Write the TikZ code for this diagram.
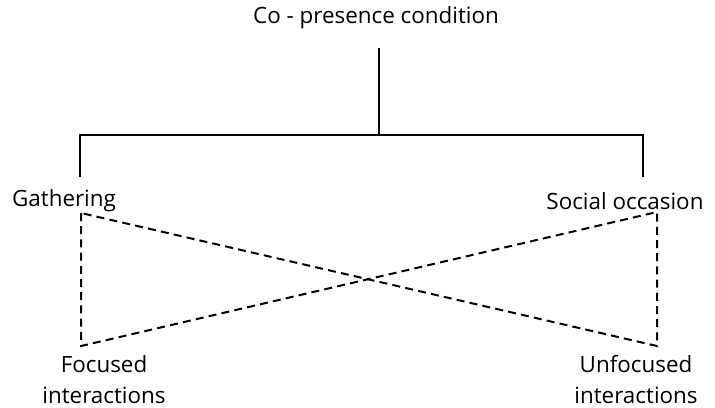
\documentclass[tikz,border=0pt]{standalone}
\usepackage{fontspec}
\setmainfont{Open Sans}
\usepackage{tikz}
\usetikzlibrary{positioning,calc}
\tikzset{
  lbl/.style={inner sep=0pt,align=center,font=\fontsize{11.2}{15.5}\selectfont},
  tree/.style={draw=black,line width=1pt},
  link/.style={draw=black,line width=1pt,dash pattern=on 4pt off 2.6pt},
}

\begin{document}
\begin{tikzpicture}[x=0.5pt,y=-0.5pt]
  \useasboundingbox (0,0) rectangle (715,407);
  % labels
  \node[lbl] (cop) at (376,18) {Co - presence condition};
  \node[lbl] (gat) at (64,201) {Gathering};
  \node[lbl] (soc) at (625,201) {Social occasion};
  \node[lbl] (foc) at (104,380) {Focused\\interactions};
  \node[lbl] (unf) at (636,380) {Unfocused\\interactions};
  % tree
  \coordinate (top) at (379,48);
  \coordinate (mid) at (379,135);
  \coordinate (lmid) at (80,135);
  \coordinate (rmid) at (643,135);
  \coordinate (lend) at (80,177);
  \coordinate (rend) at (643,177);
  \draw[tree] (top) -- (mid);
  \draw[tree] (lend) -- (lmid) -- (rmid) -- (rend);
  % dashed cross
  \coordinate (gc) at (81,213);
  \coordinate (sc) at (657,212);
  \coordinate (fc) at (81,346);
  \coordinate (uc) at (657,346);
  \draw[link] (gc) -- (fc) -- (sc) -- (uc) -- (gc);
\end{tikzpicture}
\end{document}
